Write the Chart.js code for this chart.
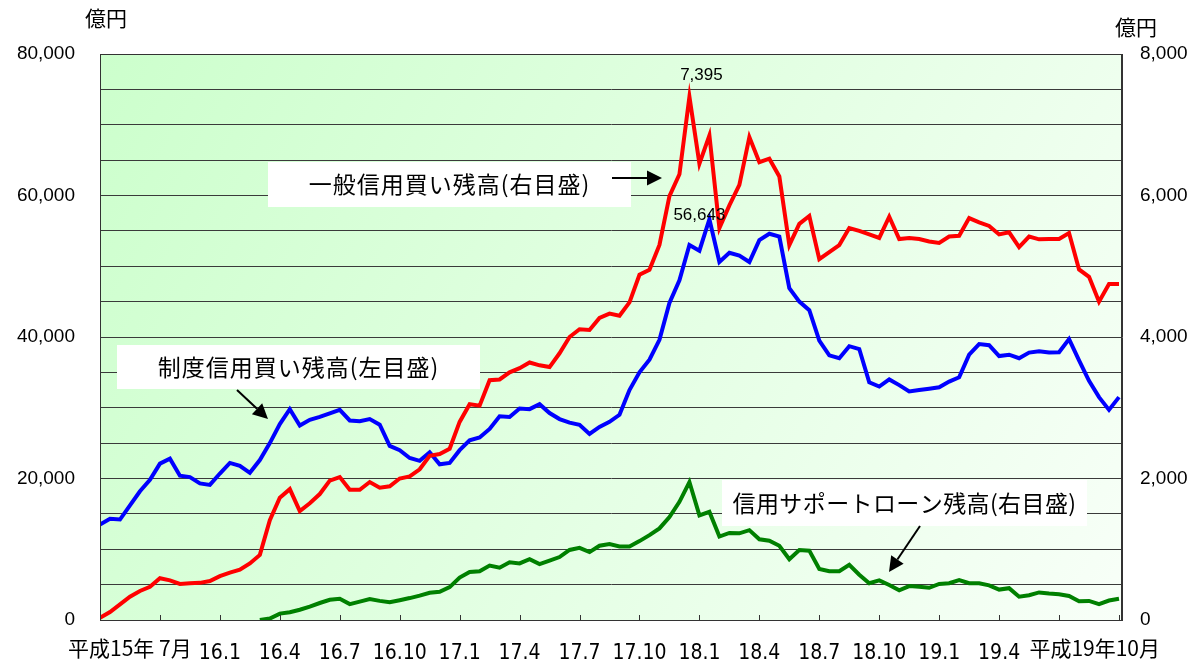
<!DOCTYPE html>
<html lang="ja">
<head>
<meta charset="UTF-8">
<title>信用取引残高の推移</title>
<script src="https://cdn.jsdelivr.net/npm/chart.js"></script>
<style>
  html, body { margin: 0; padding: 0; background: #fff; }
</style>
</head>
<body>
<canvas id="grafico" width="1194" height="660"></canvas>
<script>
// meses contados a partir de 平成15年7月, um ponto a cada meio mes
var passoMes = 0.5;

// rotulos do eixo x (um a cada 3 meses, de 15.7 ate 19.10)
var rotulosX = ['平成15年 7月', '', '16.1', '16.4', '16.7', '16.10', '17.1', '17.4', '17.7',
    '17.10', '18.1', '18.4', '18.7', '18.10', '19.1', '19.4', '', '平成19年10月'];

// 制度信用買い残高 (左目盛, 億円)
var seido = [13500, 14300, 14200, 16200, 18200, 19800, 22100, 22800, 20400, 20200,
    19300, 19100, 20700, 22200, 21800, 20800, 22600, 25000, 27700, 29800,
    27500, 28300, 28700, 29200, 29700, 28200, 28100, 28400, 27600, 24600,
    24000, 22900, 22500, 23700, 22000, 22200, 24000, 25400, 25800, 27000,
    28800, 28700, 29900, 29800, 30500, 29250, 28400, 27900, 27600, 26300,
    27300, 28000, 29000, 32500, 35000, 36800, 39600, 44800, 48000, 53000,
    52200, 56643, 50600, 51900, 51500, 50600, 53700, 54600, 54200, 46900,
    45000, 43800, 39500, 37400, 37000, 38700, 38300, 33600, 33000, 34000,
    33200, 32300, 32500, 32700, 32900, 33700, 34300, 37500, 39000, 38850,
    37300, 37500, 37000, 37800, 38000, 37800, 37850, 39700, 36700, 33800,
    31500, 29700, 31500];

// 一般信用買い残高 (右目盛, 億円)
var ippan = [30, 113, 220, 330, 410, 470, 590, 560, 510, 520,
    525, 550, 620, 670, 710, 800, 920, 1410, 1730, 1850,
    1540, 1650, 1780, 1970, 2020, 1840, 1840, 1950, 1870, 1890,
    2000, 2030, 2130, 2320, 2345, 2420, 2800, 3050, 3030, 3390,
    3400, 3500, 3560, 3640, 3600, 3575, 3770, 4000, 4110, 4100,
    4270, 4330, 4300, 4490, 4880, 4950, 5300, 5990, 6300, 7395,
    6450, 6850, 5540, 5860, 6150, 6825, 6470, 6520, 6270, 5300,
    5600, 5710, 5100, 5200, 5300, 5540, 5500, 5450, 5400, 5700,
    5385, 5400, 5385, 5350, 5330, 5420, 5430, 5680, 5620, 5570,
    5450, 5480, 5270, 5420, 5380, 5385, 5385, 5470, 4955, 4850,
    4500, 4750, 4750];

// 信用サポートローン残高 (右目盛, 億円)
var support = [null, null, null, null, null, null, null, null, null, null,
    null, null, null, null, null, null, 0, 20, 90, 110,
    145, 190, 240, 285, 300, 225, 260, 295, 270, 250,
    280, 310, 345, 385, 400, 465, 600, 680, 690, 770,
    740, 815, 800, 860, 790, 840, 890, 990, 1020, 960,
    1050, 1075, 1040, 1040, 1115, 1200, 1295, 1455, 1670, 1950,
    1480, 1530, 1180, 1230, 1225, 1270, 1140, 1120, 1050, 860,
    990, 980, 720, 690, 690, 780, 640, 520, 560, 495,
    420, 480, 470, 455, 510, 520, 565, 520, 520, 490,
    430, 450, 330, 350, 390, 375, 365, 340, 265, 270,
    225, 275, 300];

function pontos(valores) {
    return valores.map(function (v, i) { return { x: i * passoMes, y: v }; });
}

var fonteCJK = '"Noto Sans CJK JP", "Noto Sans", sans-serif';
var fonteNum = '"Liberation Sans", Arial, sans-serif';
var fonteNarrow = '"Liberation Sans Narrow", "DejaVu Sans Condensed", "Liberation Sans", sans-serif';

function desenhaSeta(ctx, x1, y1, x2, y2) {
    var ang = Math.atan2(y2 - y1, x2 - x1), L = 15, W = 7.5;
    var bx = x2 - L * Math.cos(ang), by = y2 - L * Math.sin(ang);
    ctx.beginPath();
    ctx.moveTo(x1, y1);
    ctx.lineTo(bx, by);
    ctx.lineWidth = 2;
    ctx.strokeStyle = '#000';
    ctx.stroke();
    ctx.beginPath();
    ctx.moveTo(x2, y2);
    ctx.lineTo(bx + W * Math.sin(ang), by - W * Math.cos(ang));
    ctx.lineTo(bx - W * Math.sin(ang), by + W * Math.cos(ang));
    ctx.closePath();
    ctx.fillStyle = '#000';
    ctx.fill();
}

var fundo = {
    id: 'fundo',
    beforeDraw: function (chart) {
        var ctx = chart.ctx, a = chart.chartArea;
        var g = ctx.createLinearGradient(a.left, a.top, a.right, a.bottom);
        g.addColorStop(0, '#ccffcc');
        g.addColorStop(1, '#f8fff8');
        ctx.save();
        ctx.fillStyle = g;
        ctx.fillRect(a.left, a.top, a.right - a.left, a.bottom - a.top);
        ctx.restore();
    }
};

var notas = {
    id: 'notas',
    beforeDatasetsDraw: function (chart) {
        var ctx = chart.ctx;
        var caixas = [
            { texto: '一般信用買い残高(右目盛)', x: 268, y: 162, w: 363, h: 45, esp: '1px', seta: [612, 178, 662, 178] },
            { texto: '制度信用買い残高(左目盛)', x: 117, y: 345, w: 363, h: 44, esp: '1px', seta: [237, 390, 268, 419] },
            { texto: '信用サポートローン残高(右目盛)', x: 722, y: 480, w: 365, h: 46, esp: '0.4px', seta: [920, 526, 889, 572] }
        ];
        ctx.save();
        caixas.forEach(function (c) {
            ctx.fillStyle = '#fff';
            ctx.fillRect(c.x, c.y, c.w, c.h);
            ctx.fillStyle = '#000';
            ctx.font = '23px ' + fonteCJK;
            ctx.letterSpacing = c.esp;
            ctx.textAlign = 'center';
            ctx.textBaseline = 'middle';
            ctx.fillText(c.texto, c.x + c.w / 2, c.y + c.h / 2);
            ctx.letterSpacing = '0px';
            desenhaSeta(ctx, c.seta[0], c.seta[1], c.seta[2], c.seta[3]);
        });
        ctx.restore();
    },
    afterDraw: function (chart) {
        var ctx = chart.ctx, a = chart.chartArea, sx = chart.scales.x;
        ctx.save();
        // moldura
        ctx.strokeStyle = '#333';
        ctx.lineWidth = 1;
        ctx.strokeRect(a.left + 0.5, a.top + 0.5, a.right - a.left - 1, a.bottom - a.top);
        // marcas do eixo x (para dentro)
        ctx.beginPath();
        sx.ticks.forEach(function (t) {
            var px = Math.round(sx.getPixelForValue(t.value)) + 0.5;
            ctx.moveTo(px, a.bottom - 5);
            ctx.lineTo(px, a.bottom);
        });
        ctx.stroke();
        // rotulos longos das pontas
        ctx.fillStyle = '#000';
        ctx.font = '21px "Liberation Sans Narrow", "Noto Sans CJK JP", sans-serif';
        ctx.textBaseline = 'alphabetic';
        var t0 = sx.ticks[0], tN = sx.ticks[sx.ticks.length - 1];
        ctx.textAlign = 'left';
        ctx.fillText(rotulosX[0], sx.getPixelForValue(t0.value) - 32, 656);
        ctx.textAlign = 'right';
        ctx.fillText(rotulosX[rotulosX.length - 1], sx.getPixelForValue(tN.value) + 41, 656);
        // unidades
        ctx.font = '21px ' + fonteCJK;
        ctx.textAlign = 'center';
        ctx.textBaseline = 'middle';
        ctx.fillText('億円', 106, 18);
        ctx.fillText('億円', 1136, 27);
        // valores de pico
        ctx.font = '17px ' + fonteNum;
        var iR = ippan.indexOf(Math.max.apply(null, ippan));
        var pxR = sx.getPixelForValue(iR * passoMes), pyR = chart.scales.y2.getPixelForValue(ippan[iR]);
        ctx.fillText(ippan[iR].toLocaleString('en-US'), pxR + 12, pyR - 21);
        var iB = seido.indexOf(Math.max.apply(null, seido));
        var pxB = sx.getPixelForValue(iB * passoMes), pyB = chart.scales.y.getPixelForValue(seido[iB]);
        ctx.fillText(seido[iB].toLocaleString('en-US'), pxB - 10, pyB - 4);
        ctx.restore();
    }
};

var ctx = document.getElementById('grafico').getContext('2d');
var myChart = new Chart(ctx, {
    type: 'line',
    data: {
        datasets: [{
            label: '一般信用買い残高',
            data: pontos(ippan),
            yAxisID: 'y2',
            borderColor: '#ff0000',
            borderWidth: 4,
            pointRadius: 0,
            tension: 0
        }, {
            label: '制度信用買い残高',
            data: pontos(seido),
            yAxisID: 'y',
            borderColor: '#0000ff',
            borderWidth: 4,
            pointRadius: 0,
            tension: 0
        }, {
            label: '信用サポートローン残高',
            data: pontos(support),
            yAxisID: 'y2',
            borderColor: '#008000',
            borderWidth: 4,
            pointRadius: 0,
            tension: 0
        }]
    },
    options: {
        responsive: false,
        animation: false,
        devicePixelRatio: 1,
        layout: { padding: { top: 54, left: 0, right: 0, bottom: 0 } },
        plugins: { legend: { display: false }, tooltip: { enabled: false } },
        scales: {
            x: {
                type: 'linear',
                min: 0,
                max: 51.15,
                afterBuildTicks: function (scale) {
                    scale.ticks = rotulosX.map(function (r, i) { return { value: i * 3 }; });
                },
                afterFit: function (scale) { scale.height = 40; },
                grid: { display: false },
                border: { display: true, color: '#333' },
                ticks: {
                    autoSkip: false,
                    maxRotation: 0,
                    padding: 13,
                    color: '#000',
                    font: { family: fonteNarrow, size: 21 },
                    callback: function (v) {
                        var i = Math.round(v / 3);
                        if (i === 0 || i === rotulosX.length - 1) return '';
                        return rotulosX[i];
                    }
                }
            },
            y: {
                position: 'left',
                min: 0,
                max: 80000,
                afterFit: function (scale) { scale.width = 100; },
                grid: { color: '#3a3a3a', lineWidth: 1, drawTicks: false },
                border: { display: true, color: '#333' },
                ticks: {
                    stepSize: 5000,
                    padding: 25,
                    color: '#000',
                    font: { family: fonteNum, size: 19 },
                    callback: function (v) { return v % 20000 === 0 ? v.toLocaleString('en-US') : ''; }
                }
            },
            y2: {
                position: 'right',
                min: 0,
                max: 8000,
                afterFit: function (scale) { scale.width = 72; },
                grid: { display: false, drawTicks: false },
                border: { display: true, color: '#333' },
                ticks: {
                    stepSize: 500,
                    padding: 18,
                    color: '#000',
                    font: { family: fonteNum, size: 19 },
                    callback: function (v) { return v % 2000 === 0 ? v.toLocaleString('en-US') : ''; }
                }
            }
        }
    },
    plugins: [fundo, notas]
});
</script>
</body>
</html>
